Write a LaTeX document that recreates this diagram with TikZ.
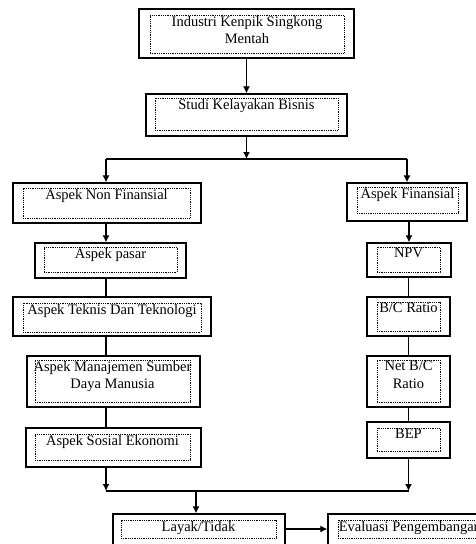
\documentclass[tikz,border=0pt]{standalone}
\usepackage{fontspec}
\setmainfont{Liberation Serif}
\usetikzlibrary{positioning,arrows.meta}

\begin{document}
\begin{tikzpicture}[x=1pt,y=-1pt,
  kotak/.style={draw=black,line width=1.3pt,inner sep=0pt},
  dalam/.style={draw=black,densely dotted,line width=0.8pt,inner sep=0pt},
  teks/.style={inner sep=0pt,align=center,font=\fontsize{14.5}{17.5}\selectfont},
  garis/.style={line width=1.2pt},
  panah/.style={garis,-{Latex[length=7pt,width=7pt]}}]
\useasboundingbox (0,0) rectangle (476,544);
\clip (0,0) rectangle (476,544);
% baris atas
\node[kotak,minimum width=215,minimum height=49] (industri) at (246.5,33.5) {};
\node[dalam,minimum width=194,minimum height=38] (industri-d) at (247,34) {};
\node[teks,below=1.5pt of industri-d.north] (industri-t) {Industri Kenpik Singkong\\Mentah};
\node[kotak,minimum width=201,minimum height=42] (studi) at (246.5,115) {};
\node[dalam,minimum width=183,minimum height=32] (studi-d) at (246.5,114) {};
\node[teks,below=1.5pt of studi-d.north] (studi-t) {Studi Kelayakan Bisnis};
% kolom kiri
\node[kotak,minimum width=188,minimum height=40] (nonfin) at (107,203) {};
\node[dalam,minimum width=167,minimum height=30] (nonfin-d) at (106.5,203) {};
\node[teks,below=1.5pt of nonfin-d.north] (nonfin-t) {Aspek Non Finansial};
\node[kotak,minimum width=151,minimum height=35] (pasar) at (110.5,260.5) {};
\node[dalam,minimum width=133,minimum height=25] (pasar-d) at (110.5,259.5) {};
\node[teks,below=1.5pt of pasar-d.north] (pasar-t) {Aspek pasar};
\node[kotak,minimum width=198,minimum height=39] (teknis) at (112,316.5) {};
\node[dalam,minimum width=178,minimum height=29] (teknis-d) at (112,317.5) {};
\node[teks,below=1.5pt of teknis-d.north] (teknis-t) {Aspek Teknis Dan Teknologi};
\node[kotak,minimum width=173,minimum height=51] (sdm) at (113.5,381.5) {};
\node[dalam,minimum width=155,minimum height=42] (sdm-d) at (112.5,381) {};
\node[teks,below=1.5pt of sdm-d.north] (sdm-t) {Aspek Manajemen Sumber\\Daya Manusia};
\node[kotak,minimum width=175,minimum height=39] (sosial) at (113.5,447.5) {};
\node[dalam,minimum width=155,minimum height=26] (sosial-d) at (112.5,447) {};
\node[teks,below=1.5pt of sosial-d.north] (sosial-t) {Aspek Sosial Ekonomi};
% kolom kanan
\node[kotak,minimum width=120,minimum height=38] (finansial) at (407,202) {};
\node[dalam,minimum width=101,minimum height=26] (finansial-d) at (407.5,200) {};
\node[teks,below=1.5pt of finansial-d.north] (finansial-t) {Aspek Finansial};
\node[kotak,minimum width=84,minimum height=34] (npv) at (409,260) {};
\node[dalam,minimum width=63,minimum height=25] (npv-d) at (408.5,259.5) {};
\node[teks,below=1.5pt of npv-d.north] (npv-t) {NPV};
\node[kotak,minimum width=83,minimum height=39] (bcr) at (408.5,316.5) {};
\node[dalam,minimum width=63,minimum height=29] (bcr-d) at (408.5,316.5) {};
\node[teks,below=1.5pt of bcr-d.north] (bcr-t) {B/C Ratio};
\node[kotak,minimum width=83,minimum height=51] (netbc) at (408.5,381.5) {};
\node[dalam,minimum width=63,minimum height=42] (netbc-d) at (408.5,381) {};
\node[teks,below=1.5pt of netbc-d.north] (netbc-t) {Net B/C\\Ratio};
\node[kotak,minimum width=83,minimum height=36] (bep) at (408.5,440) {};
\node[dalam,minimum width=63,minimum height=23] (bep-d) at (408.5,439.5) {};
\node[teks,below=1.5pt of bep-d.north] (bep-t) {BEP};
% baris bawah
\node[kotak,minimum width=172,minimum height=60] (layak) at (199,544) {};
\node[dalam,minimum width=155,minimum height=18] (layak-d) at (198.5,529) {};
\node[teks,below=1.5pt of layak-d.north] (layak-t) {Layak/Tidak};
\node[kotak,minimum width=172,minimum height=60] (evaluasi) at (414,544) {};
\node[dalam,minimum width=152,minimum height=18] (evaluasi-d) at (414,529) {};
\node[teks,anchor=north west] (evaluasi-t) at ([xshift=1pt,yshift=-1.5pt]evaluasi-d.north west) {Evaluasi Pengembangan};
% titik cabang
\coordinate (cabang) at (246.5,159);
\coordinate (kiri-atas) at (106,159);
\coordinate (kanan-atas) at (407,159);
\coordinate (kiri-bawah) at (106,491);
\coordinate (kanan-bawah) at (408.5,491);
\coordinate (gabung) at (196,491);
% penghubung
\draw[panah] (industri.south) -- (studi.north);
\draw[panah] (studi.south) -- (cabang);
\draw[garis] (kiri-atas) -- (kanan-atas);
\draw[panah] (kiri-atas) -- (kiri-atas |- nonfin.north);
\draw[panah] (kanan-atas) -- (finansial.north);
\draw[panah] (nonfin.south -| kiri-atas) -- (pasar.north -| kiri-atas);
\draw[garis] (pasar.south -| kiri-atas) -- (teknis.north -| kiri-atas);
\draw[garis] (teknis.south -| kiri-atas) -- (sdm.north -| kiri-atas);
\draw[garis] (sdm.south -| kiri-atas) -- (sosial.north -| kiri-atas);
\draw[panah] (sosial.south -| kiri-bawah) -- (kiri-bawah);
\draw[panah] (finansial.south -| npv.north) -- (npv.north);
\draw[garis] (npv.south -| bcr.north) -- (bcr.north);
\draw[garis] (bcr.south) -- (netbc.north);
\draw[garis] (netbc.south) -- (bep.north);
\draw[panah] (bep.south) -- (kanan-bawah);
\draw[garis] (kiri-bawah) -- (kanan-bawah);
\draw[panah] (gabung) -- (gabung |- layak.north);
\draw[panah] (layak-d.east -| layak.east) -- (layak-d.east -| evaluasi.west);
\end{tikzpicture}
\end{document}
